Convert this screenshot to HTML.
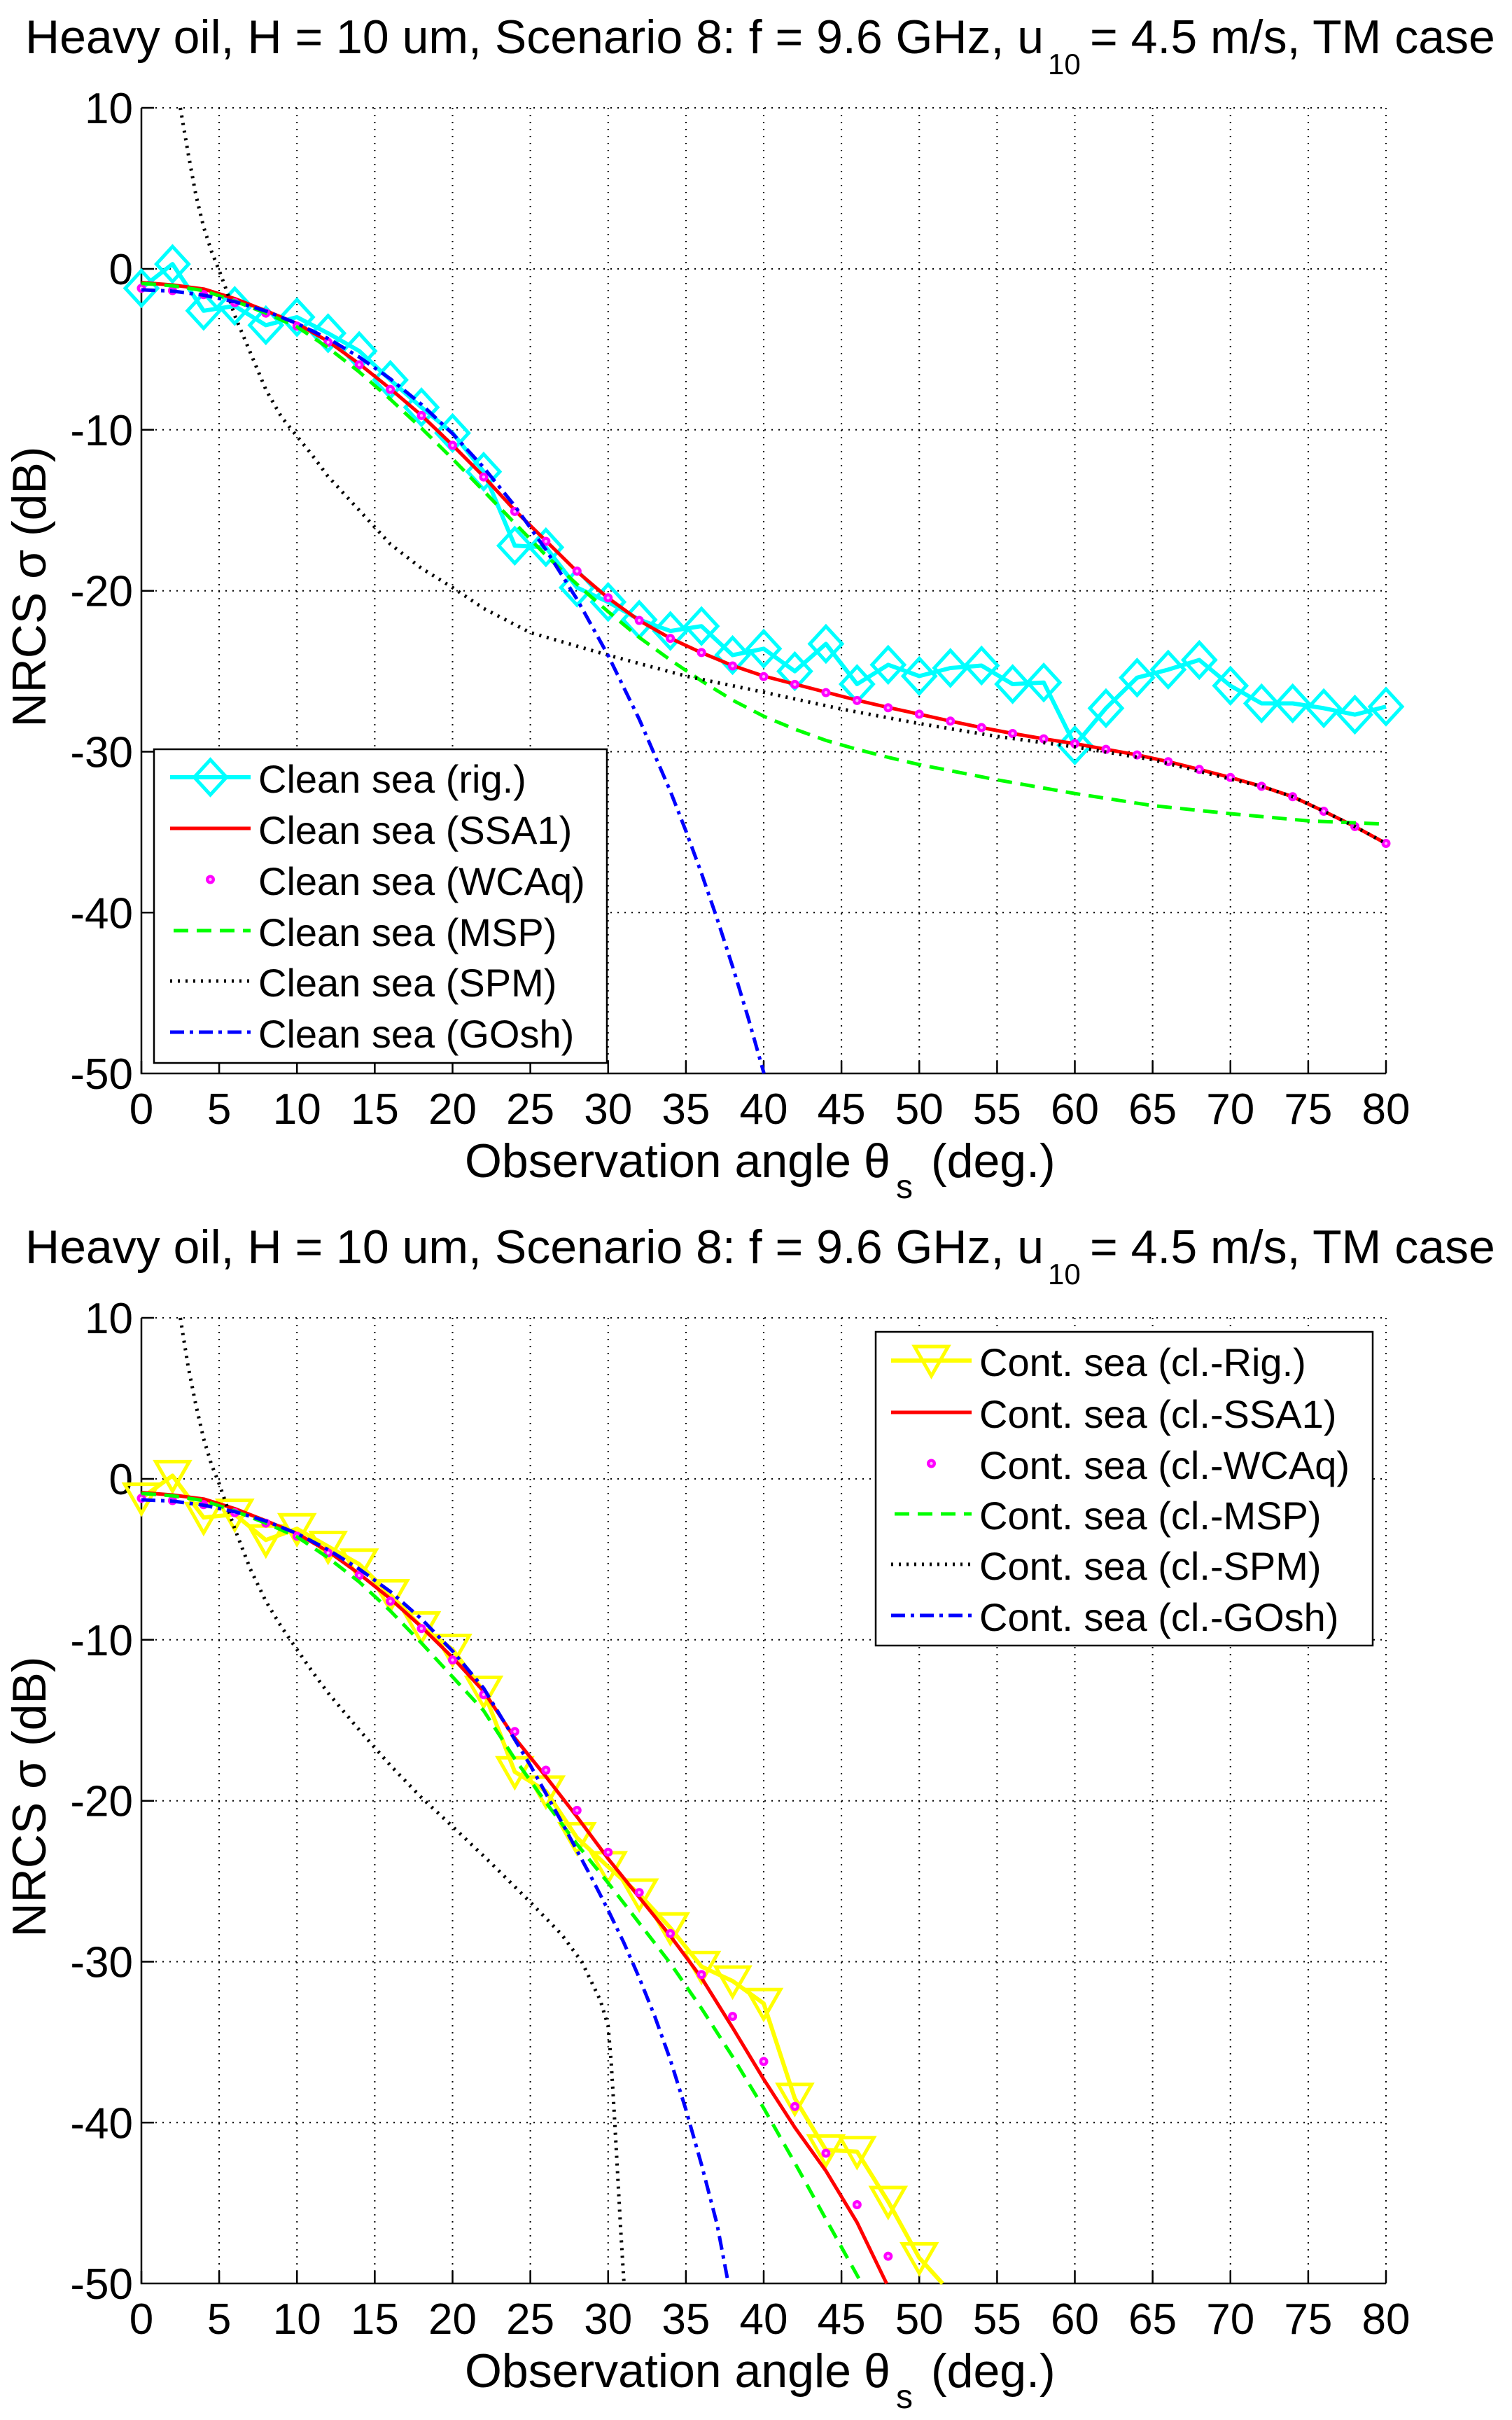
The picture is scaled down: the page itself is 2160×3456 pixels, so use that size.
<!DOCTYPE html>
<html><head><meta charset="utf-8"><style>
html,body{margin:0;padding:0;background:#fff;}
svg{display:block;}
text{font-family:"Liberation Sans",Arial,sans-serif;fill:#000;}
.t{font-size:62px;}
.lg{font-size:56px;}
.big{font-size:68px;}
.grid{fill:none;stroke:#000;stroke-width:2;stroke-dasharray:2 8;}
.ax{fill:none;stroke:#000;stroke-width:2.5;}
.cy{fill:none;stroke:#00ffff;stroke-width:6;stroke-linejoin:round;}
.ye{fill:none;stroke:#ffff00;stroke-width:6;stroke-linejoin:round;}
.rd{fill:none;stroke:#ff0000;stroke-width:5;stroke-linejoin:round;}
.gr{fill:none;stroke:#00ff00;stroke-width:5;stroke-dasharray:21 12;}
.bk{fill:none;stroke:#000;stroke-width:5;stroke-dasharray:3 8;}
.bl{fill:none;stroke:#0000ff;stroke-width:5;stroke-dasharray:20 8 5 8;}
</style></head><body>
<svg xmlns="http://www.w3.org/2000/svg" width="2160" height="3456" viewBox="0 0 2160 3456">
<defs>
<path id="dia" d="M0,-25L23,0L0,25L-23,0Z" fill="none" stroke="#00ffff" stroke-width="5"/>
<path id="tri" d="M-24,-20L24,-20L0,22Z" fill="none" stroke="#ffff00" stroke-width="5" stroke-linejoin="miter"/>
<g id="mg"><circle r="6.5" fill="#ff00ff"/><circle r="2.2" fill="#ffb0ff"/></g>
</defs>
<rect x="0" y="0" width="2160" height="3456" fill="#fff"/>

<!-- ================= TOP PLOT ================= -->
<text class="big" x="36" y="76">Heavy oil, H = 10 um, Scenario 8: f = 9.6 GHz, u<tspan x="1497" dy="30" font-size="42">10</tspan><tspan x="1557" dy="-30">= 4.5 m/s, TM case</tspan></text>

<path class="grid" d="M313.1,154V1533M424.25,154V1533M535.4,154V1533M646.5,154V1533M757.6,154V1533M868.75,154V1533M979.9,154V1533M1091,154V1533M1202.1,154V1533M1313.25,154V1533M1424.4,154V1533M1535.5,154V1533M1646.6,154V1533M1757.75,154V1533M1868.9,154V1533M1980,154V1533M202,154H1980M202,384H1980M202,613.8H1980M202,843.7H1980M202,1073.5H1980M202,1303.3H1980"/>
<path class="ax" d="M202,154V1533H1980"/>
<path class="ax" d="M202,1533V1515M313.1,1533V1515M424.25,1533V1515M535.4,1533V1515M646.5,1533V1515M757.6,1533V1515M868.75,1533V1515M979.9,1533V1515M1091,1533V1515M1202.1,1533V1515M1313.25,1533V1515M1424.4,1533V1515M1535.5,1533V1515M1646.6,1533V1515M1757.75,1533V1515M1868.9,1533V1515M1980,1533V1515M202,154H220M202,384H220M202,613.8H220M202,843.7H220M202,1073.5H220M202,1303.3H220"/>

<g class="t" text-anchor="end">
<text x="190" y="176">10</text>
<text x="190" y="406">0</text>
<text x="190" y="635.8">-10</text>
<text x="190" y="865.7">-20</text>
<text x="190" y="1095.5">-30</text>
<text x="190" y="1325.3">-40</text>
<text x="190" y="1555.2">-50</text>
</g>
<g class="t" text-anchor="middle">
<text x="202" y="1605">0</text><text x="313.1" y="1605">5</text><text x="424.25" y="1605">10</text><text x="535.4" y="1605">15</text><text x="646.5" y="1605">20</text><text x="757.6" y="1605">25</text><text x="868.75" y="1605">30</text><text x="979.9" y="1605">35</text><text x="1091" y="1605">40</text><text x="1202.1" y="1605">45</text><text x="1313.25" y="1605">50</text><text x="1424.4" y="1605">55</text><text x="1535.5" y="1605">60</text><text x="1646.6" y="1605">65</text><text x="1757.75" y="1605">70</text><text x="1868.9" y="1605">75</text><text x="1980" y="1605">80</text>
</g>
<text class="big" x="664" y="1681">Observation angle <tspan x="1234">θ</tspan><tspan x="1280" dy="30" font-size="48">s</tspan><tspan x="1330" dy="-30">(deg.)</tspan></text>
<text class="big" text-anchor="middle" transform="translate(65,838) rotate(-90)">NRCS σ (dB)</text>

<!-- cyan rig -->
<polyline class="cy" points="202,411.6 246.45,377.1 290.9,443.8 335.35,436.9 379.8,464.4 424.25,452.9 468.7,475.9 513.15,501.2 557.6,542.6 602.05,581.7 646.5,618.4 690.95,673.6 735.4,779.3 779.85,781.6 824.3,839.1 868.75,859.7 913.2,885.0 957.65,901.1 1002.1,894.2 1046.55,935.6 1091,926.4 1135.45,958.6 1179.9,919.5 1224.35,977.0 1268.8,949.4 1313.25,965.5 1357.7,954.0 1402.15,950.5 1446.6,977.0 1491.05,974.7 1535.5,1064.3 1579.95,1011.4 1624.4,967.8 1668.85,956.3 1713.3,942.5 1757.75,979.3 1802.2,1004.5 1846.65,1004.5 1891.1,1011.4 1935.55,1020.6 1980,1009.1"/>
<g>
<use href="#dia" x="202" y="411.6"/><use href="#dia" x="246.45" y="377.1"/><use href="#dia" x="290.9" y="443.8"/><use href="#dia" x="335.35" y="436.9"/><use href="#dia" x="379.8" y="464.4"/><use href="#dia" x="424.25" y="452.9"/><use href="#dia" x="468.7" y="475.9"/><use href="#dia" x="513.15" y="501.2"/><use href="#dia" x="557.6" y="542.6"/><use href="#dia" x="602.05" y="581.7"/><use href="#dia" x="646.5" y="618.4"/><use href="#dia" x="690.95" y="673.6"/><use href="#dia" x="735.4" y="779.3"/><use href="#dia" x="779.85" y="781.6"/><use href="#dia" x="824.3" y="839.1"/><use href="#dia" x="868.75" y="859.7"/><use href="#dia" x="913.2" y="885.0"/><use href="#dia" x="957.65" y="901.1"/><use href="#dia" x="1002.1" y="894.2"/><use href="#dia" x="1046.55" y="935.6"/><use href="#dia" x="1091" y="926.4"/><use href="#dia" x="1135.45" y="958.6"/><use href="#dia" x="1179.9" y="919.5"/><use href="#dia" x="1224.35" y="977.0"/><use href="#dia" x="1268.8" y="949.4"/><use href="#dia" x="1313.25" y="965.5"/><use href="#dia" x="1357.7" y="954.0"/><use href="#dia" x="1402.15" y="950.5"/><use href="#dia" x="1446.6" y="977.0"/><use href="#dia" x="1491.05" y="974.7"/><use href="#dia" x="1535.5" y="1064.3"/><use href="#dia" x="1579.95" y="1011.4"/><use href="#dia" x="1624.4" y="967.8"/><use href="#dia" x="1668.85" y="956.3"/><use href="#dia" x="1713.3" y="942.5"/><use href="#dia" x="1757.75" y="979.3"/><use href="#dia" x="1802.2" y="1004.5"/><use href="#dia" x="1846.65" y="1004.5"/><use href="#dia" x="1891.1" y="1011.4"/><use href="#dia" x="1935.55" y="1020.6"/><use href="#dia" x="1980" y="1009.1"/>
</g>
<!-- red SSA1 -->
<polyline class="rd" points="202,403.5 246.45,407.0 290.9,412.7 335.35,426.5 379.8,443.8 424.25,462.1 468.7,487.4 513.15,519.6 557.6,555.2 602.05,593.1 646.5,635.7 690.95,680.5 735.4,728.7 779.85,772.4 824.3,816.1 868.75,854.0 913.2,886.2 957.65,911.5 1002.1,932.1 1046.55,950.5 1091,965.5 1135.45,977.0 1179.9,988.5 1224.35,1000.0 1268.8,1010.3 1313.25,1019.9 1357.7,1029.8 1402.15,1039.0 1446.6,1047.5 1491.05,1055.1 1535.5,1062.0 1579.95,1070.1 1624.4,1078.1 1668.85,1087.7 1713.3,1098.8 1757.75,1110.3 1802.2,1122.9 1846.65,1137.8 1891.1,1158.5 1935.55,1180.4 1980,1204.5"/>
<!-- magenta WCAq -->
<g>
<use href="#mg" x="202" y="411.6"/><use href="#mg" x="246.45" y="415.0"/><use href="#mg" x="290.9" y="420.8"/><use href="#mg" x="335.35" y="432.3"/><use href="#mg" x="379.8" y="447.2"/><use href="#mg" x="424.25" y="465.8"/><use href="#mg" x="468.7" y="488.8"/><use href="#mg" x="513.15" y="521.0"/><use href="#mg" x="557.6" y="556.1"/><use href="#mg" x="602.05" y="593.4"/><use href="#mg" x="646.5" y="635.9"/><use href="#mg" x="690.95" y="681.2"/><use href="#mg" x="735.4" y="730.4"/><use href="#mg" x="779.85" y="773.1"/><use href="#mg" x="824.3" y="815.6"/><use href="#mg" x="868.75" y="853.8"/><use href="#mg" x="913.2" y="886.0"/><use href="#mg" x="957.65" y="911.7"/><use href="#mg" x="1002.1" y="931.9"/><use href="#mg" x="1046.55" y="951.0"/><use href="#mg" x="1091" y="966.2"/><use href="#mg" x="1135.45" y="977.4"/><use href="#mg" x="1179.9" y="989.1"/><use href="#mg" x="1224.35" y="1000.4"/><use href="#mg" x="1268.8" y="1010.8"/><use href="#mg" x="1313.25" y="1019.9"/><use href="#mg" x="1357.7" y="1029.8"/><use href="#mg" x="1402.15" y="1039.0"/><use href="#mg" x="1446.6" y="1047.5"/><use href="#mg" x="1491.05" y="1055.1"/><use href="#mg" x="1535.5" y="1062.0"/><use href="#mg" x="1579.95" y="1070.1"/><use href="#mg" x="1624.4" y="1078.1"/><use href="#mg" x="1668.85" y="1087.7"/><use href="#mg" x="1713.3" y="1098.8"/><use href="#mg" x="1757.75" y="1110.3"/><use href="#mg" x="1802.2" y="1122.9"/><use href="#mg" x="1846.65" y="1137.8"/><use href="#mg" x="1891.1" y="1158.5"/><use href="#mg" x="1935.55" y="1180.4"/><use href="#mg" x="1980" y="1204.5"/>
</g>
<!-- green MSP -->
<polyline class="gr" points="202,404.7 246.45,408.1 290.9,415.0 335.35,430.0 379.8,447.2 424.25,466.7 468.7,496.6 513.15,531.1 557.6,570.2 602.05,611.5 646.5,655.2 690.95,701.2 735.4,747.1 779.85,793.1 824.3,834.5 868.75,873.5 913.2,910.3 957.65,942.5 1002.1,972.4 1046.55,999.9 1091,1022.9 1135.45,1041.3 1179.9,1057.4 1224.35,1070.1 1268.8,1081.5 1313.25,1091.9 1424.4,1113.7 1535.5,1133.2 1646.6,1150.5 1757.75,1162.0 1868.9,1172.3 1980,1176.9"/>
<!-- black SPM -->
<polyline class="bk" points="257.6,154 268.7,218.5 279.8,278.3 290.9,324.2 302.0,358.7 313.1,386.3 324.2,416.2 335.35,450.7 357.6,503.5 379.8,556.4 402.0,595.4 424.25,623.0 446.5,650.6 468.7,680.5 513.15,728.7 557.6,777.0 602.05,811.5 646.5,839.1 690.95,868.9 757.6,903.4 868.75,935.6 979.9,965.5 1091,988.5 1202.1,1012.6 1313.25,1033.3 1424.4,1051.7 1535.5,1066.6 1646.6,1085.0 1757.75,1112.6 1802.2,1122.9 1846.65,1137.8 1891.1,1158.5 1935.55,1180.4 1980,1204.5"/>
<!-- blue GOsh -->
<polyline class="bl" points="202,413.9 246.45,415.7 290.9,421.5 335.35,430.9 379.8,444.2 424.25,461.9 468.7,483.5 513.15,509.9 557.6,541.0 602.05,577.5 646.5,619.3 690.95,667.6 735.4,722.5 779.85,785.1 824.3,855.8 868.75,936.0 913.2,1027.1 957.65,1130.0 979.9,1186.8 1002.1,1247.2 1024.3,1311.6 1046.55,1380.3 1068.8,1453.4 1091.4,1533"/>

<!-- top legend -->
<rect x="220" y="1070" width="647" height="448" fill="#fff" stroke="#000" stroke-width="2.5"/>
<path class="cy" d="M243,1110H358"/><use href="#dia" x="300.5" y="1110"/>
<path class="rd" d="M243,1183H358"/>
<use href="#mg" x="300.5" y="1256"/>
<path class="gr" d="M248,1329H358"/>
<path class="bk" d="M243,1401H358"/>
<path class="bl" d="M243,1474H358"/>
<g class="lg">
<text x="369" y="1132">Clean sea (rig.)</text>
<text x="369" y="1205">Clean sea (SSA1)</text>
<text x="369" y="1278">Clean sea (WCAq)</text>
<text x="369" y="1351">Clean sea (MSP)</text>
<text x="369" y="1423">Clean sea (SPM)</text>
<text x="369" y="1496">Clean sea (GOsh)</text>
</g>

<!-- ================= BOTTOM PLOT ================= -->
<text class="big" x="36" y="1804">Heavy oil, H = 10 um, Scenario 8: f = 9.6 GHz, u<tspan x="1497" dy="30" font-size="42">10</tspan><tspan x="1557" dy="-30">= 4.5 m/s, TM case</tspan></text>

<path class="grid" d="M313.1,1882V3261M424.25,1882V3261M535.4,1882V3261M646.5,1882V3261M757.6,1882V3261M868.75,1882V3261M979.9,1882V3261M1091,1882V3261M1202.1,1882V3261M1313.25,1882V3261M1424.4,1882V3261M1535.5,1882V3261M1646.6,1882V3261M1757.75,1882V3261M1868.9,1882V3261M1980,1882V3261M202,1882H1980M202,2112H1980M202,2341.8H1980M202,2571.7H1980M202,2801.5H1980M202,3031.3H1980"/>
<path class="ax" d="M202,1882V3261H1980"/>
<path class="ax" d="M202,3261V3243M313.1,3261V3243M424.25,3261V3243M535.4,3261V3243M646.5,3261V3243M757.6,3261V3243M868.75,3261V3243M979.9,3261V3243M1091,3261V3243M1202.1,3261V3243M1313.25,3261V3243M1424.4,3261V3243M1535.5,3261V3243M1646.6,3261V3243M1757.75,3261V3243M1868.9,3261V3243M1980,3261V3243M202,1882H220M202,2112H220M202,2341.8H220M202,2571.7H220M202,2801.5H220M202,3031.3H220"/>

<g class="t" text-anchor="end">
<text x="190" y="1904">10</text>
<text x="190" y="2134">0</text>
<text x="190" y="2363.8">-10</text>
<text x="190" y="2593.7">-20</text>
<text x="190" y="2823.5">-30</text>
<text x="190" y="3053.3">-40</text>
<text x="190" y="3283.2">-50</text>
</g>
<g class="t" text-anchor="middle">
<text x="202" y="3333">0</text><text x="313.1" y="3333">5</text><text x="424.25" y="3333">10</text><text x="535.4" y="3333">15</text><text x="646.5" y="3333">20</text><text x="757.6" y="3333">25</text><text x="868.75" y="3333">30</text><text x="979.9" y="3333">35</text><text x="1091" y="3333">40</text><text x="1202.1" y="3333">45</text><text x="1313.25" y="3333">50</text><text x="1424.4" y="3333">55</text><text x="1535.5" y="3333">60</text><text x="1646.6" y="3333">65</text><text x="1757.75" y="3333">70</text><text x="1868.9" y="3333">75</text><text x="1980" y="3333">80</text>
</g>
<text class="big" x="664" y="3409">Observation angle <tspan x="1234">θ</tspan><tspan x="1280" dy="30" font-size="48">s</tspan><tspan x="1330" dy="-30">(deg.)</tspan></text>
<text class="big" text-anchor="middle" transform="translate(65,2566) rotate(-90)">NRCS σ (dB)</text>

<!-- yellow rig -->
<polyline class="ye" points="202,2139.6 246.45,2107.4 290.9,2167.2 335.35,2162.6 379.8,2199.3 424.25,2183.2 468.7,2208.5 513.15,2233.8 557.6,2277.5 602.05,2323.4 646.5,2355.6 690.95,2415.4 735.4,2530.3 779.85,2557.9 824.3,2624.5 868.75,2665.9 913.2,2705.0 957.65,2753.2 1002.1,2808.4 1046.55,2829.1 1091,2861.2 1135.45,2996.8 1179.9,3070.4 1224.35,3072.7 1268.8,3144.0 1313.25,3224.4 1346.6,3261.2"/>
<g>
<use href="#tri" x="202" y="2139.6"/><use href="#tri" x="246.45" y="2107.4"/><use href="#tri" x="290.9" y="2167.2"/><use href="#tri" x="335.35" y="2162.6"/><use href="#tri" x="379.8" y="2199.3"/><use href="#tri" x="424.25" y="2183.2"/><use href="#tri" x="468.7" y="2208.5"/><use href="#tri" x="513.15" y="2233.8"/><use href="#tri" x="557.6" y="2277.5"/><use href="#tri" x="602.05" y="2323.4"/><use href="#tri" x="646.5" y="2355.6"/><use href="#tri" x="690.95" y="2415.4"/><use href="#tri" x="735.4" y="2530.3"/><use href="#tri" x="779.85" y="2557.9"/><use href="#tri" x="824.3" y="2624.5"/><use href="#tri" x="868.75" y="2665.9"/><use href="#tri" x="913.2" y="2705.0"/><use href="#tri" x="957.65" y="2753.2"/><use href="#tri" x="1002.1" y="2808.4"/><use href="#tri" x="1046.55" y="2829.1"/><use href="#tri" x="1091" y="2861.2"/><use href="#tri" x="1135.45" y="2996.8"/><use href="#tri" x="1179.9" y="3070.4"/><use href="#tri" x="1224.35" y="3072.7"/><use href="#tri" x="1268.8" y="3144.0"/><use href="#tri" x="1313.25" y="3224.4"/>
</g>
<!-- red SSA1 -->
<polyline class="rd" points="202,2131.5 246.45,2135.0 290.9,2140.7 335.35,2154.5 379.8,2171.8 424.25,2190.1 468.7,2215.4 513.15,2247.6 557.6,2283.2 602.05,2323.4 646.5,2367.1 690.95,2415.4 735.4,2482.0 779.85,2537.2 824.3,2594.6 868.75,2654.4 913.2,2709.6 957.65,2764.7 1002.1,2824.5 1046.55,2895.7 1091,2969.3 1135.45,3038.2 1179.9,3100.3 1224.35,3173.8 1246.6,3219.8 1266.6,3261.2"/>
<!-- magenta -->
<g>
<use href="#mg" x="202" y="2139.6"/><use href="#mg" x="246.45" y="2143.0"/><use href="#mg" x="290.9" y="2148.8"/><use href="#mg" x="335.35" y="2160.3"/><use href="#mg" x="379.8" y="2175.2"/><use href="#mg" x="424.25" y="2193.8"/><use href="#mg" x="468.7" y="2217.7"/><use href="#mg" x="513.15" y="2249.9"/><use href="#mg" x="557.6" y="2286.7"/><use href="#mg" x="602.05" y="2325.7"/><use href="#mg" x="646.5" y="2370.6"/><use href="#mg" x="690.95" y="2420.0"/><use href="#mg" x="735.4" y="2472.8"/><use href="#mg" x="779.85" y="2528.0"/><use href="#mg" x="824.3" y="2585.4"/><use href="#mg" x="868.75" y="2645.2"/><use href="#mg" x="913.2" y="2702.7"/><use href="#mg" x="957.65" y="2761.3"/><use href="#mg" x="1002.1" y="2819.9"/><use href="#mg" x="1046.55" y="2879.6"/><use href="#mg" x="1091" y="2944.0"/><use href="#mg" x="1135.45" y="3008.3"/><use href="#mg" x="1179.9" y="3075.0"/><use href="#mg" x="1224.35" y="3148.5"/><use href="#mg" x="1268.8" y="3222.1"/>
</g>
<!-- green MSP -->
<polyline class="gr" points="202,2132.7 246.45,2136.1 290.9,2143.0 335.35,2158.0 379.8,2175.2 424.25,2194.7 468.7,2224.6 513.15,2259.1 557.6,2300.5 602.05,2346.4 646.5,2394.7 690.95,2443.0 735.4,2511.9 779.85,2574.0 824.3,2633.7 868.75,2688.9 913.2,2746.3 957.65,2803.8 1002.1,2868.1 1046.55,2937.1 1091,3010.6 1135.45,3088.8 1179.9,3169.2 1231.0,3261.2"/>
<!-- black SPM -->
<polyline class="bk" points="257.6,1882 268.7,1951.1 279.8,2006.3 290.9,2054.5 302.0,2091.3 313.1,2118.9 335.35,2183.2 357.6,2240.7 379.8,2286.7 402.0,2323.4 424.25,2355.6 446.5,2387.8 468.7,2417.7 513.15,2470.5 557.6,2521.1 602.05,2567.1 646.5,2608.4 702.1,2661.3 757.6,2716.5 802.1,2762.4 831.0,2801.5 857.6,2856.6 868.75,2893.4 873.2,2946.3 877.6,3019.8 882.1,3100.3 886.5,3180.7 891.0,3254.3 891.6,3261"/>
<!-- blue GOsh -->
<polyline class="bl" points="202,2141.9 246.45,2143.7 290.9,2149.5 335.35,2158.9 379.8,2172.2 424.25,2189.9 468.7,2213.1 513.15,2240.7 557.6,2272.9 602.05,2312.0 646.5,2357.9 690.95,2410.8 757.6,2521.1 802.1,2601.5 846.5,2684.3 868.75,2727.9 891.0,2773.9 913.2,2824.5 935.4,2879.6 957.65,2941.7 979.9,3012.9 1002.1,3091.1 1024.3,3176.1 1040.5,3261"/>

<!-- bottom legend -->
<rect x="1251" y="1902" width="710" height="448" fill="#fff" stroke="#000" stroke-width="2.5"/>
<path class="ye" d="M1273,1943H1388"/><use href="#tri" x="1330.5" y="1943"/>
<path class="rd" d="M1273,2017H1388"/>
<use href="#mg" x="1330.5" y="2090"/>
<path class="gr" d="M1278,2162H1388"/>
<path class="bk" d="M1273,2234H1388"/>
<path class="bl" d="M1273,2307H1388"/>
<g class="lg">
<text x="1399" y="1965">Cont. sea (cl.-Rig.)</text>
<text x="1399" y="2039">Cont. sea (cl.-SSA1)</text>
<text x="1399" y="2112">Cont. sea (cl.-WCAq)</text>
<text x="1399" y="2184">Cont. sea (cl.-MSP)</text>
<text x="1399" y="2256">Cont. sea (cl.-SPM)</text>
<text x="1399" y="2329">Cont. sea (cl.-GOsh)</text>
</g>
</svg>
</body></html>
